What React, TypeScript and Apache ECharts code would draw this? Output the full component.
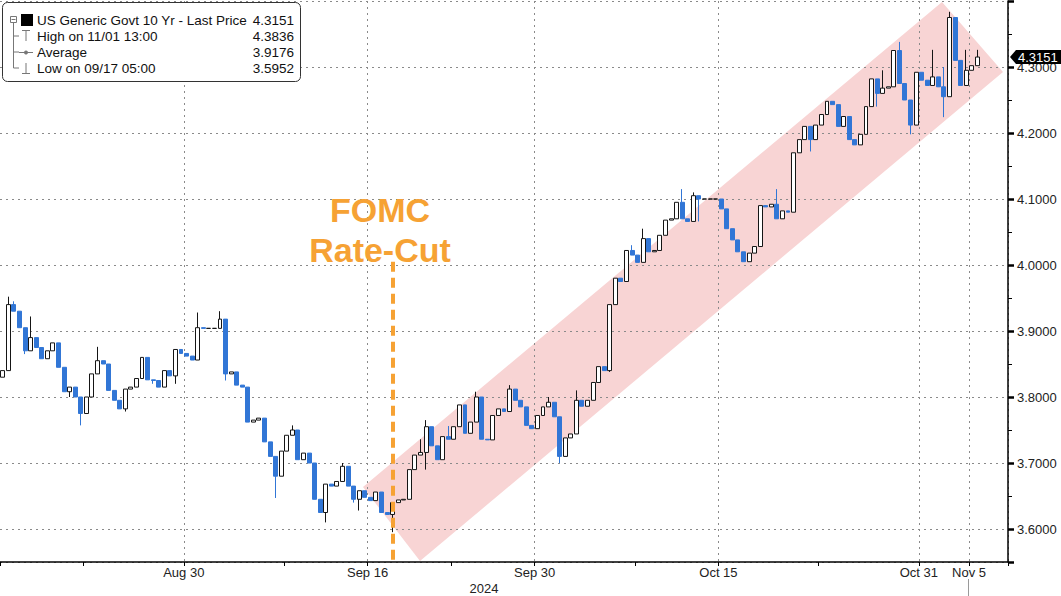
import React, { useEffect, useRef } from "react";
import * as echarts from "echarts";

// ---------- data ----------
const SESSIONS_PER_DAY = 3;
const TOTAL_SLOTS = 181;
const FIRST_OPEN = 3.83;
const LAST_PRICE = 4.3151;

// closes, 3 sessions per trading day, starting Aug 15 2024
const closes = [
  3.840, 3.940, 3.930, 3.905, 3.870, 3.890, 3.875, 3.858, 3.870, 3.882,
  3.845, 3.808, 3.815, 3.800, 3.775, 3.800, 3.835, 3.855, 3.850, 3.810,
  3.795, 3.782, 3.812, 3.815, 3.828, 3.860, 3.826, 3.825, 3.815, 3.840,
  3.832, 3.872, 3.866, 3.862, 3.856, 3.905, 3.904, 3.904, 3.904, 3.918,
  3.835, 3.838, 3.818, 3.815, 3.762, 3.765, 3.768, 3.732, 3.710, 3.680,
  3.718, 3.742, 3.750, 3.705, 3.715, 3.700, 3.645, 3.625, 3.668, 3.665,
  3.672, 3.695, 3.665, 3.645, 3.658, 3.648, 3.643, 3.656, 3.625, 3.622,
  3.640, 3.644, 3.645, 3.690, 3.712, 3.716, 3.755, 3.726, 3.705, 3.740,
  3.736, 3.755, 3.788, 3.745, 3.762, 3.800, 3.736, 3.735, 3.772, 3.782,
  3.778, 3.812, 3.795, 3.785, 3.757, 3.752, 3.772, 3.785, 3.792, 3.770,
  3.710, 3.738, 3.744, 3.795, 3.786, 3.795, 3.822, 3.846, 3.840, 3.940,
  3.980, 3.975, 4.022, 4.015, 4.004, 4.040, 4.020, 4.022, 4.045, 4.068,
  4.070, 4.095, 4.070, 4.066, 4.105, 4.100, 4.100, 4.100, 4.100, 4.085,
  4.055, 4.038, 4.020, 4.005, 4.018, 4.028, 4.090, 4.088, 4.092, 4.070,
  4.082, 4.080, 4.170, 4.190, 4.210, 4.190, 4.212, 4.228, 4.248, 4.243,
  4.210, 4.225, 4.190, 4.182, 4.198, 4.240, 4.282, 4.260, 4.268, 4.270,
  4.325, 4.275, 4.250, 4.212, 4.292, 4.280, 4.272, 4.285, 4.270, 4.255,
  4.375, 4.310, 4.272, 4.295, 4.302, 4.3151,
];

const wickHighs: Record<number, number> = {
  1: 3.952, 2: 3.945, 5: 3.922, 17: 3.876, 35: 3.928, 39: 3.93, 40: 3.918,
  52: 3.757, 61: 3.7, 75: 3.736, 76: 3.765, 80: 3.756, 85: 3.808, 91: 3.818,
  98: 3.8, 103: 3.81, 113: 4.03, 115: 4.055, 122: 4.115, 124: 4.11, 139: 4.115,
  158: 4.295, 161: 4.338, 167: 4.326, 169: 4.3, 170: 4.3836, 173: 4.326, 175: 4.326,
};
const wickLows: Record<number, number> = {
  4: 3.865, 12: 3.8, 14: 3.757, 22: 3.778, 27: 3.82, 31: 3.82, 40: 3.825,
  49: 3.647, 58: 3.61, 63: 3.64, 64: 3.628, 70: 3.5952, 76: 3.69, 100: 3.7,
  109: 3.838, 125: 4.066, 145: 4.172, 157: 4.24, 163: 4.198, 169: 4.224,
};

const labeledDays = ["Aug 30", "Sep 16", "Sep 30", "Oct 15", "Oct 31", "Nov 5"];
const tickDays = ["Aug 15", "Aug 22", "Aug 30", "Sep 9", "Sep 16", "Sep 23", "Sep 30", "Oct 8", "Oct 15", "Oct 23", "Oct 31", "Nov 5"];
const yearLabel = "2024";
const fomcDay = "Sep 17";
const fomcSession = 1;
const fomcTop = 4.005;
const Y_MIN = 3.55;
const Y_MAX = 4.4;

const legendRows = [
  { label: "US Generic Govt 10 Yr - Last Price", value: "4.3151" },
  { label: "High on 11/01 13:00", value: "4.3836" },
  { label: "Average", value: "3.9176" },
  { label: "Low on 09/17 05:00", value: "3.5952" },
];

// ---------- derived ----------
const MONTHS = ["Jan", "Feb", "Mar", "Apr", "May", "Jun", "Jul", "Aug", "Sep", "Oct", "Nov", "Dec"];
function weekdays(count: number): string[] {
  const out: string[] = [];
  const d = new Date(Date.UTC(2024, 7, 15));
  while (out.length < count) {
    const wd = d.getUTCDay();
    if (wd !== 0 && wd !== 6) out.push(`${MONTHS[d.getUTCMonth()]} ${d.getUTCDate()}`);
    d.setUTCDate(d.getUTCDate() + 1);
  }
  return out;
}
const days = weekdays(Math.ceil(TOTAL_SLOTS / SESSIONS_PER_DAY));
const categories: string[] = [];
days.forEach((d) => {
  for (let s = 0; s < SESSIONS_PER_DAY; s++) categories.push(`${d}|${s}`);
});
categories.length = TOTAL_SLOTS;

const labelSet = new Set(labeledDays.map((d) => categories.indexOf(`${d}|0`)));
const tickSet = new Set(tickDays.map((d) => categories.indexOf(`${d}|0`)));

const candles = closes.map((c, i) => {
  const o = i === 0 ? FIRST_OPEN : closes[i - 1];
  const hi = Math.max(o, c, wickHighs[i] ?? -Infinity);
  const lo = Math.min(o, c, wickLows[i] ?? Infinity);
  return [o, c, lo, hi];
});

const FONT = '"Liberation Sans", Arial, sans-serif';
const GRID = { left: 0, right: 53, top: 1, bottom: 34 };
const slotPx = (1061 - GRID.left - GRID.right) / TOTAL_SLOTS;

function txt(x: number, y: number, text: string, opts: any = {}) {
  const align = opts.align || "left";
  return {
    type: "text",
    x,
    y,
    z: opts.z ?? 10,
    style: {
      text,
      fill: opts.fill || "#111",
      font: opts.font || `13px ${FONT}`,
      align,
      textAlign: align,
      verticalAlign: "middle",
      textVerticalAlign: "middle",
    },
  };
}
function ln(x1: number, y1: number, x2: number, y2: number, stroke = "#777", lineWidth = 1) {
  return { type: "line", z: 10, shape: { x1, y1, x2, y2 }, style: { stroke, lineWidth } };
}

export default function App() {
  const ref = useRef<HTMLDivElement>(null);
  useEffect(() => {
    const chart = echarts.init(ref.current!, null, { renderer: "svg" });
    const dotted = { color: "#8a8a8a", type: [2, 4], width: 1 };
    chart.setOption({
      animation: false,
      backgroundColor: "#ffffff",
      grid: GRID,
      xAxis: {
        type: "category",
        data: categories,
        boundaryGap: true,
        axisLine: { lineStyle: { color: "#000", width: 1.5 } },
        axisTick: { show: true, interval: (i: number) => tickSet.has(i), length: 4, lineStyle: { color: "#000" } },
        axisLabel: {
          interval: (i: number) => labelSet.has(i),
          formatter: (v: string) => v.split("|")[0],
          color: "#222",
          fontSize: 13,
          fontFamily: FONT,
          margin: 4,
          padding: [0, slotPx, 0, 0],
        },
        splitLine: { show: true, interval: (i: number) => labelSet.has(i), lineStyle: dotted },
      },
      yAxis: {
        type: "value",
        position: "right",
        min: Y_MIN,
        max: Y_MAX,
        splitNumber: 8,
        axisLine: { show: true, lineStyle: { color: "#000", width: 1.5 } },
        axisTick: { show: true, length: 6, lineStyle: { color: "#000", width: 2.5 } },
        minorTick: { show: true, splitNumber: 2, length: 4, lineStyle: { color: "#000" } },
        axisLabel: {
          color: "#222",
          fontSize: 13,
          fontFamily: FONT,
          margin: 9,
          formatter: (v: number) => (v < Y_MIN + 0.01 || v > Y_MAX - 0.01 ? "" : v.toFixed(4)),
        },
        splitLine: { show: true, lineStyle: dotted },
      },
      series: [
        {
          type: "candlestick",
          data: candles,
          barWidth: "80%",
          itemStyle: {
            color: "#ffffff",
            color0: "#3176d6",
            borderColor: "#151515",
            borderColor0: "#3176d6",
            borderWidth: 1,
          },
          markLine: {
            silent: true,
            symbol: ["none", "none"],
            label: { show: false },
            lineStyle: { color: "#F6A234", width: 4, type: [10, 6] },
            data: [
              [
                { coord: [`${fomcDay}|${fomcSession}`, fomcTop] },
                { coord: [`${fomcDay}|${fomcSession}`, Y_MIN] },
              ],
            ],
          },
        },
      ],
    });

    const yLast = chart.convertToPixel({ yAxisIndex: 0 }, LAST_PRICE) as number;
    const rowY = [20, 36, 52, 68];
    const graphics: any[] = [
      // trend channel
      {
        type: "polygon",
        z: -1,
        shape: { points: [[363, 487], [420, 561], [1003, 72], [942, 2]] },
        style: { fill: "#f8d4d4" },
      },
      // FOMC annotation
      txt(380, 210, "FOMC", { align: "center", fill: "#F6A234", font: `bold 34px ${FONT}` }),
      txt(380, 250, "Rate-Cut", { align: "center", fill: "#F6A234", font: `bold 34px ${FONT}` }),
      // year label
      txt(484, 588, yearLabel, { align: "center", fill: "#222" }),
      ln(968.5, 579, 968.5, 596, "#9a9a9a"),
      // legend box
      {
        type: "rect",
        z: 9,
        shape: { x: 2.5, y: 2.5, width: 298, height: 79, r: 5 },
        style: { fill: "#ffffff", stroke: "#333", lineWidth: 1 },
      },
      { type: "rect", z: 10, shape: { x: 10.5, y: 16.5, width: 6, height: 6 }, style: { fill: "#fff", stroke: "#777", lineWidth: 1 } },
      ln(11.5, 19.5, 15.5, 19.5),
      { type: "rect", z: 10, shape: { x: 21, y: 14, width: 12, height: 12 }, style: { fill: "#000" } },
      ln(13.5, 23, 13.5, 68),
      ln(13.5, 36, 19, 36),
      ln(13.5, 52, 19, 52),
      ln(13.5, 68, 19, 68),
      ln(22, 30.5, 30, 30.5),
      ln(26, 30.5, 26, 41),
      ln(19, 52.5, 33, 52.5),
      { type: "circle", z: 10, shape: { cx: 26, cy: 52.5, r: 2 }, style: { fill: "#777" } },
      ln(26, 63, 26, 73.5),
      ln(22, 73.5, 30, 73.5),
      ...legendRows.flatMap((r, i) => [
        txt(37, rowY[i], r.label, { fill: "#111", font: `13.5px ${FONT}` }),
        txt(294, rowY[i], r.value, { fill: "#111", align: "right", font: `13.5px ${FONT}` }),
      ]),
      // last price tag
      {
        type: "polygon",
        z: 20,
        shape: { points: [[1010, yLast], [1016, yLast - 7], [1061, yLast - 7], [1061, yLast + 7], [1016, yLast + 7]] },
        style: { fill: "#000" },
      },
      txt(1018, yLast, LAST_PRICE.toFixed(4), { fill: "#fff", z: 21 }),
    ];
    chart.setOption({ graphic: graphics });
    return () => chart.dispose();
  }, []);
  return (
    <div
      ref={ref}
      style={{ position: "fixed", left: 0, top: 0, width: 1061, height: 596, background: "#fff" }}
    />
  );
}
